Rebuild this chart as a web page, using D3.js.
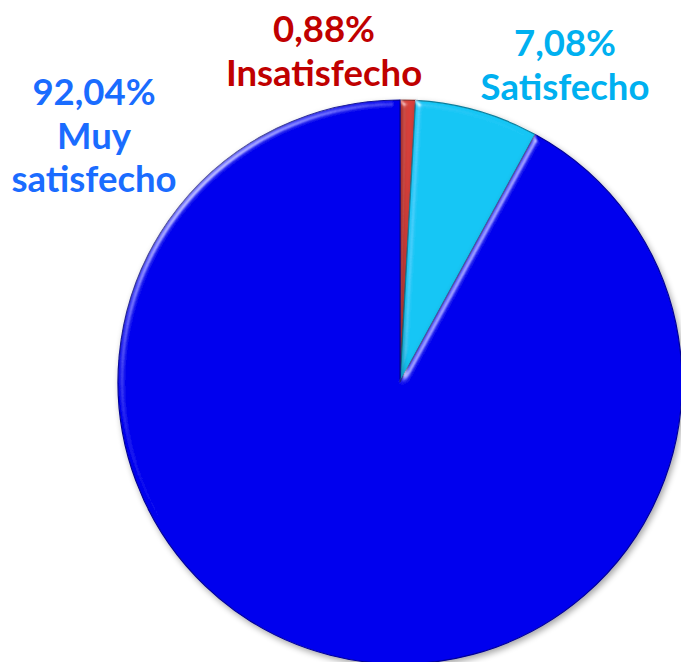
<!DOCTYPE html>
<html>
<head>
<meta charset="utf-8">
<script src="https://cdn.jsdelivr.net/npm/d3@7/dist/d3.min.js"></script>
<style>
  html, body { margin: 0; padding: 0; background: #fff; }
  svg { display: block; }
  .lbl { font-family: Lato, "Open Sans", sans-serif; font-weight: bold; font-size: 36.5px; }
</style>
</head>
<body>
<div id="chart"></div>
<script>
// Data (clockwise from 12 o'clock)
const categories = ["Insatisfecho", "Satisfecho", "Muy satisfecho"];
const values     = [0.88, 7.08, 92.04];
const labelLines = [["0,88%", "Insatisfecho"], ["7,08%", "Satisfecho"], ["92,04%", "Muy", "satisfecho"]];

// Colours
const sliceColors = ["#d9403a", "#12c6f5", "#0000ee"];
const labelColors = ["#c00000", "#00b0f0", "#1a6cff"];

const W = 681, H = 662;
const cx = 400, cy = 382, radius = 282;

// label anchor points (centre x, first baseline y)
const labelPos = [
  { x: 324, y: 42 },
  { x: 565, y: 56 },
  { x: 94,  y: 105 }
];
const lineGap = 43.5;

const svg = d3.select("#chart").append("svg")
  .attr("width", W)
  .attr("height", H);

const defs = svg.append("defs");

// bevel highlight on the edges + soft drop shadow
const f = defs.append("filter")
  .attr("id", "bevel")
  .attr("x", "-10%").attr("y", "-10%")
  .attr("width", "120%").attr("height", "120%");
f.append("feGaussianBlur").attr("in", "SourceAlpha").attr("stdDeviation", 3).attr("result", "blur");
f.append("feSpecularLighting")
  .attr("in", "blur").attr("surfaceScale", 5).attr("specularConstant", 0.9)
  .attr("specularExponent", 30).attr("lighting-color", "#ffffff").attr("result", "spec")
  .append("feDistantLight").attr("azimuth", 225).attr("elevation", 22);
f.append("feComposite").attr("in", "spec").attr("in2", "SourceAlpha").attr("operator", "in").attr("result", "specIn");
f.append("feComposite").attr("in", "SourceGraphic").attr("in2", "specIn")
  .attr("operator", "arithmetic").attr("k1", 0).attr("k2", 1).attr("k3", 0.5).attr("k4", 0).attr("result", "lit");
f.append("feGaussianBlur").attr("in", "SourceAlpha").attr("stdDeviation", 3).attr("result", "sblur");
f.append("feOffset").attr("in", "sblur").attr("dx", 2).attr("dy", 3).attr("result", "soff");
f.append("feComponentTransfer").attr("in", "soff").attr("result", "shadow")
  .append("feFuncA").attr("type", "linear").attr("slope", 0.35);
const m = f.append("feMerge");
m.append("feMergeNode").attr("in", "shadow");
m.append("feMergeNode").attr("in", "lit");

const pie = d3.pie().sort(null).value(d => d);
const arcs = pie(values);

const arc = d3.arc().innerRadius(0).outerRadius(radius);

const g = svg.append("g").attr("transform", `translate(${cx},${cy})`);

g.selectAll("path.slice")
  .data(arcs)
  .enter()
  .append("path")
  .attr("class", "slice")
  .attr("d", arc)
  .attr("fill", (d, i) => sliceColors[i])
  .attr("stroke", (d, i) => d3.color(sliceColors[i]).darker(1.3))
  .attr("stroke-width", 1.2)
  .attr("stroke-linejoin", "round")
  .attr("filter", "url(#bevel)");

// Labels
labelLines.forEach((lines, i) => {
  const t = svg.append("text")
    .attr("class", "lbl")
    .attr("text-anchor", "middle")
    .attr("fill", labelColors[i]);
  lines.forEach((s, j) => {
    t.append("tspan")
      .attr("x", labelPos[i].x)
      .attr("y", labelPos[i].y + j * lineGap)
      .text(s);
  });
});
</script>
</body>
</html>
